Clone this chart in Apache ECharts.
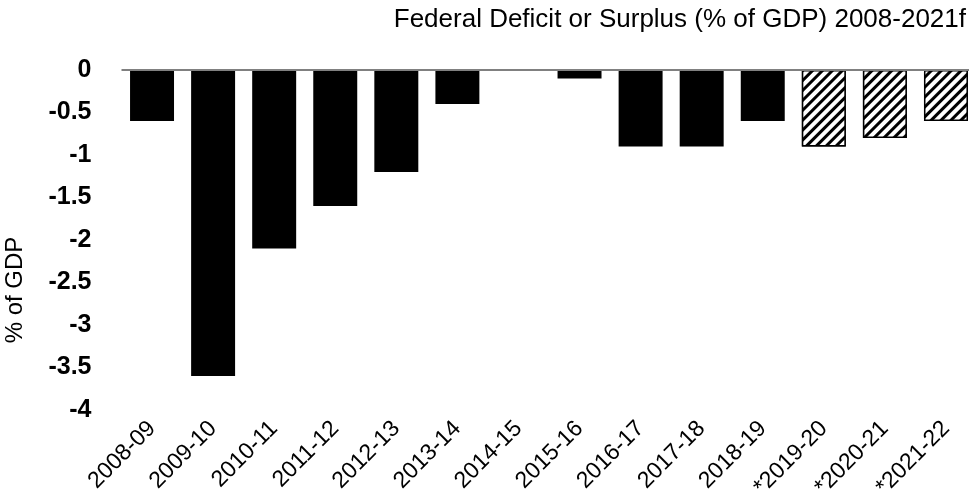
<!DOCTYPE html>
<html><head><meta charset="utf-8">
<script src="https://cdn.jsdelivr.net/npm/echarts@6/dist/echarts.min.js"></script>
<style>html,body{margin:0;padding:0;background:#fff}#c{width:969px;height:503px}</style>
</head><body><div id="c"></div>
<script>
const categories = ['2008-09','2009-10','2010-11','2011-12','2012-13','2013-14','2014-15','2015-16','2016-17','2017-18','2018-19','*2019-20','*2020-21','*2021-22'];
const values = [-0.6,-3.6,-2.1,-1.6,-1.2,-0.4,0,-0.1,-0.9,-0.9,-0.6,-0.9,-0.8,-0.6];
const forecast = [false,false,false,false,false,false,false,false,false,false,false,true,true,true];
const yTicks = {min:-4, max:0, interval:0.5};

const chart = echarts.init(document.getElementById('c'));
const font = '"Liberation Sans", Arial, sans-serif';
const data = values.map((v,i)=> forecast[i] ? {
  value:v,
  itemStyle:{color:'#fff', borderColor:'#000', borderWidth:1.5,
    decal:{symbol:'rect', symbolSize:1, color:'#000', backgroundColor:'#fff', dashArrayX:[1,0], dashArrayY:[3,4], rotation:-Math.PI/4}}
} : {value:v, itemStyle:{color:'#000'}});

chart.setOption({
  animation:false,
  title:{text:'Federal Deficit or Surplus (% of GDP) 2008-2021f', right:-2, top:2,
    textStyle:{fontFamily:font, fontSize:26, fontWeight:'normal', color:'#000'}},
  grid:{left:121.5, top:70, bottom:93, width:855, outerBoundsMode:'none', containLabel:false},
  xAxis:{type:'category', data:categories,
    axisLine:{show:false, onZero:false}, axisTick:{show:false},
    axisLabel:{rotate:45, fontFamily:font, fontSize:23, color:'#000', margin:15, interval:0}},
  yAxis:{type:'value', min:yTicks.min, max:yTicks.max, interval:yTicks.interval,
    name:'% of GDP', nameLocation:'middle', nameGap:94,
    nameTextStyle:{fontFamily:font, fontSize:24, color:'#000', padding:[0,100,0,0]},
    axisLine:{show:false}, axisTick:{show:false}, splitLine:{show:false},
    axisLabel:{fontFamily:font, fontSize:25, fontWeight:'bold', color:'#000', margin:30}},
  series:[{type:'bar', data:data, barCategoryGap:'28%',
    markLine:{silent:true, symbol:'none', label:{show:false},
      lineStyle:{color:'#808080', width:2, type:'solid'}, data:[{yAxis:0}]}}]
});
</script></body></html>
